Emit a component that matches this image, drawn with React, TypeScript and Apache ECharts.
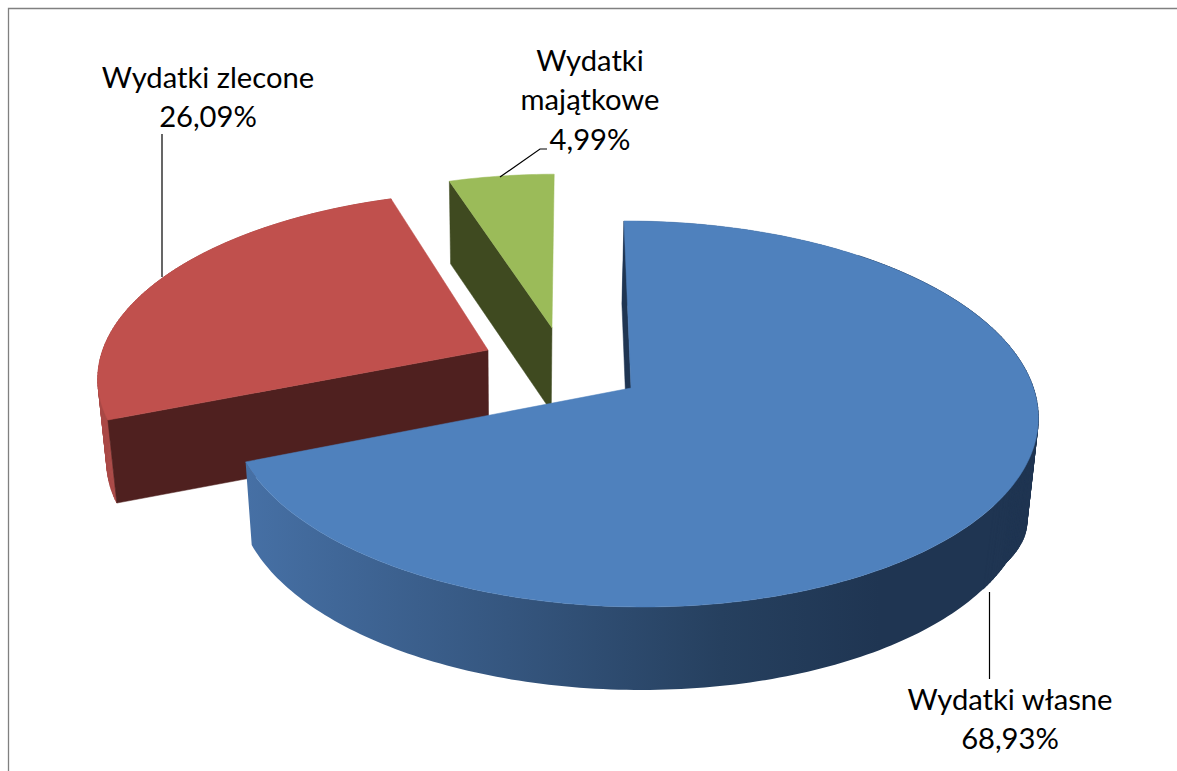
import React, { useEffect, useRef } from "react";
import * as echarts from "echarts";

const categories = ["Wydatki własne", "Wydatki zlecone", "Wydatki majątkowe"];
const percentages = [68.93, 26.09, 4.99];
const topColors = ["#4f81bd", "#c0504d", "#9bbb59"];
const faceColors = ["#1f3552", "#4f201f", "#3f4a20"];
const explodeU = [0, -0.364, -0.2];
const explodeV = [0, 0.206, 0.332];
const paintOrder = [2, 1, 0];
const labelLines = [["Wydatki własne"], ["Wydatki zlecone"], ["Wydatki", "majątkowe"]];

const FONT = "Lato, Carlito, sans-serif";
const CX = 631, CY = 388, SX = 400, SY = 189.5, AX = -8, AZ = -2.5, K = 0.1346, L = -0.006, M = 0.022, DZ = 85.5, DC = 0.082;
const WALL_DARK = "#1f3552";

function project(u: number, v: number, z: number): number[] {
  const w = 1 + K * v + L * u + M * z;
  // the lower rim of the reference sags a little on its right-hand side
  const sag = z * 70 * Math.max(0, u) * Math.max(0, v + 0.45);
  return [CX + (SX * u + AX * v + AZ * z) / w, CY + (-SY * v + DZ * z * (1 + DC * v) + sag) / w];
}
const total = percentages.reduce((a, b) => a + b, 0);
function range(i: number): number[] {
  let s = 0;
  for (let j = 0; j < i; j++) s += percentages[j];
  return [(s / total) * 2 * Math.PI, ((s + percentages[i]) / total) * 2 * Math.PI];
}
function arc(i: number, z: number): number[][] {
  const [a, b] = range(i);
  const n = Math.max(8, Math.ceil(((b - a) * 180) / Math.PI));
  const out: number[][] = [];
  for (let t = 0; t <= n; t++) {
    const th = a + ((b - a) * t) / n;
    out.push(project(Math.sin(th) + explodeU[i], Math.cos(th) + explodeV[i], z));
  }
  return out;
}
function poly(points: number[][], fill: any, stroke: string = fill, width = 0.5) {
  return {
    type: "polygon",
    shape: { points },
    style: { fill, stroke, lineWidth: width },
  };
}
function renderSlice(params: any) {
  const i = paintOrder[params.dataIndex];
  const top = arc(i, 0);
  const bottom = arc(i, 1);
  const apexT = project(explodeU[i], explodeV[i], 0);
  const apexB = project(explodeU[i], explodeV[i], 1);
  const startFace = [apexT, top[0], bottom[0], apexB];
  const children: any[] = [];
  if (i === 0) {
    const gradient = new echarts.graphic.LinearGradient(0, 0, 1, 0, [
      { offset: 0, color: "#4670a5" },
      { offset: 0.33, color: "#35567f" },
      { offset: 0.6, color: "#26405f" },
      { offset: 0.8, color: WALL_DARK },
      { offset: 1, color: WALL_DARK },
    ]);
    children.push(poly(top.concat(bottom.slice().reverse()), gradient, "none", 0));
    // the right-hand silhouette, where the rims cross, is filled strip by strip
    for (let t = 40; t < 125; t++) {
      children.push(poly([top[t], top[t + 1], bottom[t + 1], bottom[t]], WALL_DARK, WALL_DARK, 0.8));
    }
  } else if (i === 1) {
    for (let t = 0; t < top.length - 1; t++) {
      children.push(poly([top[t], top[t + 1], bottom[t + 1], bottom[t]], "#a94946", "#a94946", 0.8));
    }
  }
  children.push(poly(startFace, faceColors[i]));
  children.push(poly([apexT].concat(top), topColors[i]));
  return { type: "group", children };
}
const fmt = (v: number) => v.toFixed(2).replace(".", ",") + "%";

const labelPos = [
  { x: 1010, y: 698 },
  { x: 208, y: 76 },
  { x: 590, y: 59 },
];
const LINE_H = 39.5;

export default function App() {
  const ref = useRef<HTMLDivElement>(null);
  useEffect(() => {
    const chart = echarts.init(ref.current!, undefined, { renderer: "svg" });
    const texts = categories.map((_, i) => ({
      type: "text",
      z: 10,
      style: {
        x: labelPos[i].x,
        y: labelPos[i].y - LINE_H / 2,
        text: [...labelLines[i], fmt(percentages[i])].join("\n"),
        font: `29.2px ${FONT}`,
        lineHeight: LINE_H,
        fill: "#000000",
        align: "center",
        verticalAlign: "top",
      },
    }));
    const leader = (points: number[][]) => ({
      type: "polyline",
      z: 9,
      shape: { points },
      style: { stroke: "#000000", lineWidth: 1.2, fill: "none" },
    });
    chart.setOption({
      animation: false,
      backgroundColor: "#ffffff",
      graphic: [
        { type: "rect", z: 0, shape: { x: 8.5, y: 8.5, width: 1400, height: 1000 }, style: { fill: "none", stroke: "#808080", lineWidth: 1.3 }, silent: true },
        leader([[989.5, 592], [989.5, 679]]),
        leader([[162, 134], [162, 277]]),
        leader([[547, 149], [540, 149], [500, 177]]),
        ...texts,
      ],
      series: [
        {
          type: "custom",
          coordinateSystem: "none",
          silent: true,
          renderItem: renderSlice,
          data: paintOrder.map((i) => ({ name: categories[i], value: percentages[i] })),
        },
      ],
    });
    return () => chart.dispose();
  }, []);
  return <div ref={ref} style={{ position: "absolute", left: 0, top: 0, width: 1177, height: 771, overflow: "hidden" }} />;
}
